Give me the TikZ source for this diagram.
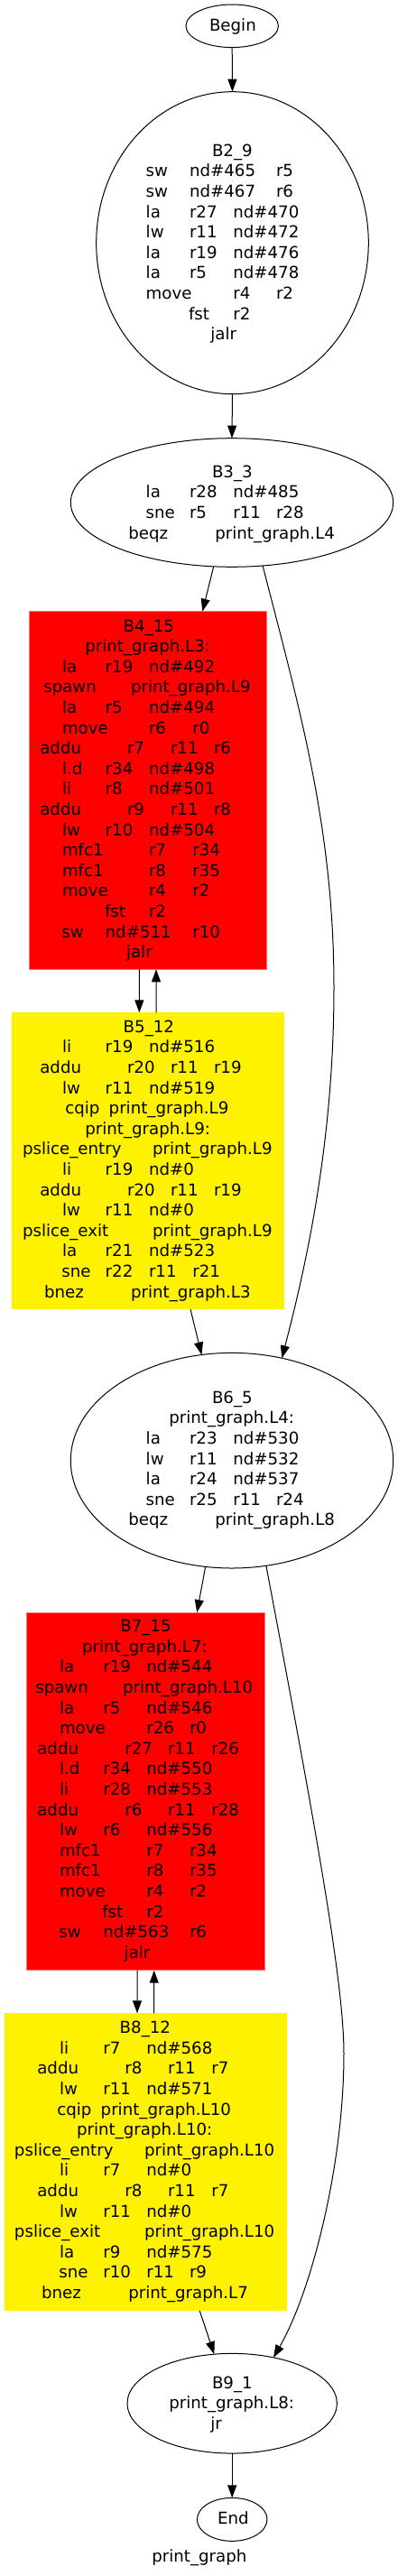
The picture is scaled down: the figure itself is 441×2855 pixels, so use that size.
\documentclass[tikz,border=0pt]{standalone}
\usepackage{fontspec}
\setmainfont{DejaVu Sans}
\usetikzlibrary{arrows.meta,shapes.geometric}
\newcounter{tc}
\newcommand{\tline}[2]{\foreach \xx/\ww in {#2}{\stepcounter{tc}\node[txt] (t\arabic{tc}) at (\xx,#1) {\ww};}}
\tikzset{
  txt/.style={anchor=base west, inner sep=0pt, outer sep=0pt, font=\fontsize{18.2}{22}\selectfont},
  ell/.style={ellipse, draw, line width=1pt, inner sep=0pt, outer sep=0pt},
  redbox/.style={rectangle, fill=red, draw=red!55!white, line width=0.6pt, inner sep=0pt, outer sep=0pt},
  yelbox/.style={rectangle, fill=yellow, draw=none, inner sep=0pt, outer sep=0pt},
  edge/.style={-{Triangle[length=14pt,width=10pt]}, line width=1pt}
}
\begin{document}
\begin{tikzpicture}[x=1pt,y=-1pt]
\useasboundingbox (0,0) rectangle (441,2855);
% shapes
\node[ell, minimum width=102.4pt, minimum height=47.6pt] (begin) at (257.2,28.8) {};
\node[ell, minimum width=301.6pt, minimum height=335pt] (b2) at (257.5,269.2) {};
\node[ell, minimum width=357.4pt, minimum height=142.6pt] (b3) at (257,557) {};
\node[redbox, minimum width=262.7pt, minimum height=396.6pt] (b4) at (163.7,876) {};
\node[yelbox, minimum width=302.3pt, minimum height=328.7pt] (b5) at (163.85,1286.65) {};
\node[ell, minimum width=357.4pt, minimum height=238.6pt] (b6) at (257,1618.7) {};
\node[redbox, minimum width=264.7pt, minimum height=396.7pt] (b7) at (161.35,1985.35) {};
\node[yelbox, minimum width=313pt, minimum height=329.4pt] (b8) at (161.2,2396) {};
\node[ell, minimum width=232.4pt, minimum height=110.7pt] (b9) at (257.2,2663.7) {};
\node[ell, minimum width=77.6pt, minimum height=48pt] (end) at (257.2,2792.3) {};
% edges
\draw[edge] (begin.south) -- (b2.north);
\draw[edge] (b2.south) -- (b3.north);
\draw[edge] (b3.-106.6) -- (b4.73.9);
\draw[edge] (b3.-64.7) .. controls (329.7,778.3) and (370,914) .. (370,1094) .. controls (370,1244) and (346.8,1373.7) .. (b6.64.6);
\draw[edge] ([xshift=-9.4pt]b4.south) -- ([xshift=-9.5pt]b5.north);
\draw[edge] ([xshift=9.2pt]b5.north) -- ([xshift=9.3pt]b4.south);
\draw[edge] (b5.-74.1) -- (b6.106.3);
\draw[edge] (b6.-104.25) -- (b7.74.4);
\draw[edge] (b6.-72.05) .. controls (352,2036) and (381,2200) .. (381,2276) .. controls (381,2400) and (345,2540) .. (b9.48.6);
\draw[edge] ([xshift=-9.3pt]b7.south) -- ([xshift=-9.2pt]b8.north);
\draw[edge] ([xshift=9.5pt]b8.north) -- ([xshift=9.4pt]b7.south);
\draw[edge] (b8.-70.6) -- (b9.110.3);
\draw[edge] (b9.south) -- (end.north);
% Begin
\tline{35}{232/Begin}
% B2
\tline{173.3}{235/B2\_9}
\tline{195.9}{161.7/sw, 210/nd\#465, 306/r5}
\tline{218.5}{161.7/sw, 210/nd\#467, 306/r6}
\tline{241.1}{161.7/la, 210/r27, 258.3/nd\#470}
\tline{263.7}{161.7/lw, 210/r11, 258.3/nd\#472}
\tline{286.3}{161.7/la, 210/r19, 258.3/nd\#476}
\tline{308.9}{161.7/la, 210/r5, 258.3/nd\#478}
\tline{331.5}{161.7/move, 258.3/r4, 306/r2}
\tline{354.1}{209/fst, 258.3/r2}
\tline{376.7}{233.3/jalr}
% B3
\tline{529.3}{235/B3\_3}
\tline{551.9}{161.7/la, 210/r28, 258.3/nd\#485}
\tline{574.5}{161.7/sne, 210/r5, 258.3/r11, 306/r28}
\tline{597.1}{142.3/beqz, 238.3/print\_graph.L4}
% B4
\tline{700}{136.7/B4\_15}
\tline{722.6}{94.3/print\_graph.L3:}
\tline{745.2}{69/la, 116.7/r19, 165/nd\#492}
\tline{767.8}{48.3/spawn, 145/print\_graph.L9}
\tline{790.4}{69/la, 116.7/r5, 165/nd\#494}
\tline{813}{69/move, 165/r6, 213.3/r0}
\tline{835.6}{44.3/addu, 141/r7, 189/r11, 237/r6}
\tline{858.2}{69/l.d, 116.7/r34, 165/nd\#498}
\tline{880.8}{69/li, 116.7/r8, 165/nd\#501}
\tline{903.4}{44.3/addu, 141/r9, 189/r11, 237/r8}
\tline{926}{69/lw, 116.7/r10, 165/nd\#504}
\tline{948.6}{69/mfc1, 165/r7, 213.3/r34}
\tline{971.2}{69/mfc1, 165/r8, 213.3/r35}
\tline{993.8}{69/move, 165/r4, 213.3/r2}
\tline{1016.4}{116/fst, 165/r2}
\tline{1039}{68.3/sw, 116.7/nd\#511, 213.3/r10}
\tline{1061.6}{140/jalr}
% B5
\tline{1144.3}{136.7/B5\_12}
\tline{1166.9}{69/li, 116.7/r19, 165/nd\#516}
\tline{1189.5}{44.3/addu, 141/r20, 189/r11, 237/r19}
\tline{1212.1}{69/lw, 116.7/r11, 165/nd\#519}
\tline{1234.7}{72.3/cqip, 120.7/print\_graph.L9}
\tline{1257.3}{94.3/print\_graph.L9:}
\tline{1279.9}{25/pslice\_entry, 169/print\_graph.L9}
\tline{1302.5}{69/li, 116.7/r19, 165/nd\#0}
\tline{1325.1}{44.3/addu, 141/r20, 189/r11, 237/r19}
\tline{1347.7}{69/lw, 116.7/r11, 165/nd\#0}
\tline{1370.3}{25/pslice\_exit, 169/print\_graph.L9}
\tline{1392.9}{69/la, 116.7/r21, 165/nd\#523}
\tline{1415.5}{68.3/sne, 116.7/r22, 165/r11, 213.3/r21}
\tline{1438.1}{49/bnez, 145/print\_graph.L3}
% B6
\tline{1555.3}{235/B6\_5}
\tline{1577.9}{187.3/print\_graph.L4:}
\tline{1600.5}{161.7/la, 210/r23, 258.3/nd\#530}
\tline{1623.1}{161.7/lw, 210/r11, 258.3/nd\#532}
\tline{1645.7}{161.7/la, 210/r24, 258.3/nd\#537}
\tline{1668.3}{161.7/sne, 210/r25, 258.3/r11, 306/r24}
\tline{1690.9}{142.3/beqz, 238.3/print\_graph.L8}
% B7
\tline{1808.7}{133.3/B7\_15}
\tline{1831.3}{91/print\_graph.L7:}
\tline{1853.9}{66/la, 114.3/r19, 162.3/nd\#544}
\tline{1876.5}{39.3/spawn, 136/print\_graph.L10}
\tline{1899.1}{66/la, 114.3/r5, 162.3/nd\#546}
\tline{1921.7}{66/move, 162.3/r26, 210/r0}
\tline{1944.3}{41.3/addu, 138.3/r27, 186/r11, 234.3/r26}
\tline{1966.9}{66/l.d, 114.3/r34, 162.3/nd\#550}
\tline{1989.5}{66/li, 114.3/r28, 162.3/nd\#553}
\tline{2012.1}{41.3/addu, 138.3/r6, 186/r11, 234.3/r28}
\tline{2034.7}{66/lw, 114.3/r6, 162.3/nd\#556}
\tline{2057.3}{66/mfc1, 162.3/r7, 210/r34}
\tline{2079.9}{66/mfc1, 162.3/r8, 210/r35}
\tline{2102.5}{66/move, 162.3/r4, 210/r2}
\tline{2125.1}{113.3/fst, 162.3/r2}
\tline{2147.7}{65.3/sw, 114.3/nd\#563, 210/r6}
\tline{2170.3}{137.7/jalr}
% B8
\tline{2253.7}{132.7/B8\_12}
\tline{2276.3}{66/li, 114.3/r7, 162.3/nd\#568}
\tline{2298.9}{41.3/addu, 138.3/r8, 186/r11, 234.3/r7}
\tline{2321.5}{66/lw, 114.3/r11, 162.3/nd\#571}
\tline{2344.1}{63.3/cqip, 111.7/print\_graph.L10}
\tline{2366.7}{85/print\_graph.L10:}
\tline{2389.3}{16/pslice\_entry, 160/print\_graph.L10}
\tline{2411.9}{66/li, 114.3/r7, 162.3/nd\#0}
\tline{2434.5}{41.3/addu, 138.3/r8, 186/r11, 234.3/r7}
\tline{2457.1}{66/lw, 114.3/r11, 162.3/nd\#0}
\tline{2479.7}{16/pslice\_exit, 160/print\_graph.L10}
\tline{2502.3}{66/la, 114.3/r9, 162.3/nd\#575}
\tline{2524.9}{65.3/sne, 114.3/r10, 162.3/r11, 210/r9}
\tline{2547.5}{46/bnez, 142.3/print\_graph.L7}
% B9
\tline{2647.3}{235/B9\_1}
\tline{2669.9}{187.3/print\_graph.L8:}
\tline{2692.5}{233.3/jr}
% End and graph label
\tline{2797.3}{241/End}
\tline{2839}{168.3/print\_graph}
\end{tikzpicture}
\end{document}
